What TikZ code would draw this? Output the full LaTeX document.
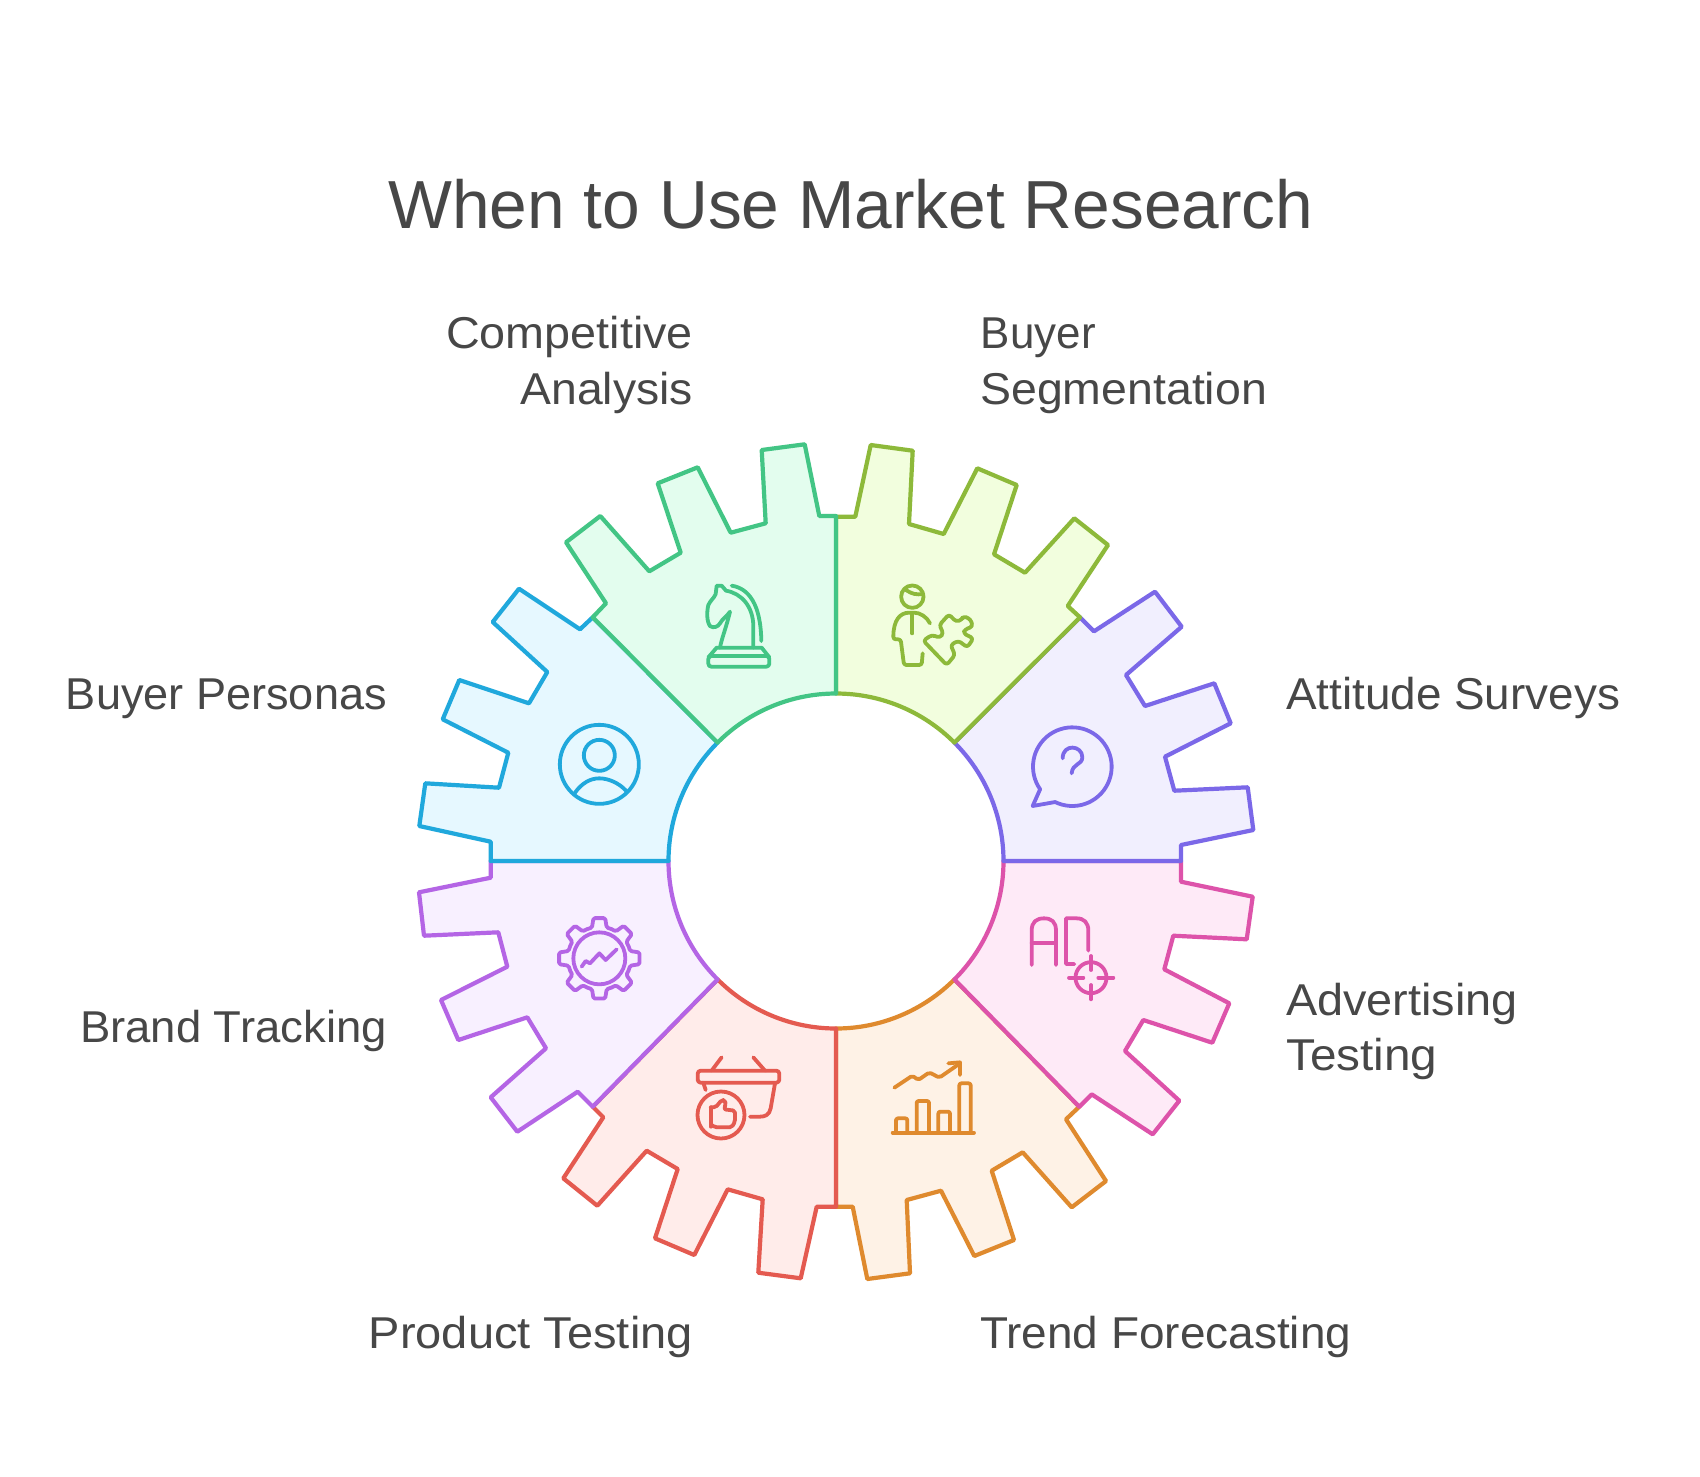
\documentclass[tikz,border=0pt]{standalone}
\usepackage{fontspec}
\setmainfont{Liberation Sans}
\definecolor{txt}{HTML}{474747}
\definecolor{gS}{HTML}{43C585}\definecolor{gF}{HTML}{E3FDEE}
\definecolor{bS}{HTML}{20A8DC}\definecolor{bF}{HTML}{E6F8FF}
\definecolor{yS}{HTML}{8DB93A}\definecolor{yF}{HTML}{F2FEDE}
\definecolor{vS}{HTML}{7B68E8}\definecolor{vF}{HTML}{F1EFFE}
\definecolor{pS}{HTML}{DD53AA}\definecolor{pF}{HTML}{FEEAF7}
\definecolor{oS}{HTML}{DF8A2E}\definecolor{oF}{HTML}{FEF2E6}
\definecolor{rS}{HTML}{E45A50}\definecolor{rF}{HTML}{FFECEA}
\definecolor{mS}{HTML}{B465E5}\definecolor{mF}{HTML}{F8F0FF}
\tikzset{
 seg/.style={line width=4.2pt,line join=round},
 ico/.style={line width=3.8pt,line join=round,line cap=round},
 lbl/.style={text=txt,font=\fontsize{44.6}{52}\selectfont\addfontfeature{FakeStretch=#1},inner sep=0pt},
 ttl/.style={text=txt,font=\fontsize{68}{80}\selectfont\addfontfeature{FakeStretch=0.995},inner sep=0pt},
 zoomed/.style={shift={#1},x=0.33333pt,y=-0.33333pt},
}
\begin{document}
\begin{tikzpicture}[x=1pt,y=-1pt]
\useasboundingbox[fill=white] (0,0) rectangle (1700,1476);
% orange
\draw[seg,draw=oS,fill=oF] (954.4,979.4) .. controls (923,1010.8) and (880.4,1028.5) .. (836,1028.5) -- (836,1206.7) -- (852.7,1206.7) -- (867.3,1279) -- (910,1273.3) -- (906.7,1200) -- (941,1190.7) -- (974.3,1256) -- (1014,1240) -- (991.7,1170.7) -- (1022.7,1152.3) -- (1071.7,1207.3) -- (1106,1181) -- (1066,1119.3) -- (1079.3,1106.7) -- cycle;
% red
\draw[seg,draw=rS,fill=rF] (717.6,979.4) .. controls (749,1010.8) and (791.6,1028.5) .. (836,1028.5) -- (836,1206.7) -- (816.7,1206.7) -- (800.7,1278.3) -- (758.3,1272.7) -- (762.7,1199.3) -- (727.7,1189.3) -- (694.3,1255) -- (655,1238.3) -- (677.7,1169) -- (646.7,1150.7) -- (597.3,1205.7) -- (563.3,1178.3) -- (603.3,1117.3) -- (592.7,1106.7) -- cycle;
% pink
\draw[seg,draw=pS,fill=pF] (1003.5,861) .. controls (1003.5,905.4) and (985.8,948) .. (954.4,979.4) -- (1079.3,1106.7) -- (1091.7,1094.3) -- (1152.7,1134.3) -- (1179.3,1100.7) -- (1125,1051) -- (1143.3,1020) -- (1212.3,1042.7) -- (1229.3,1003.3) -- (1164.3,969.3) -- (1173.3,935.7) -- (1246.7,939.3) -- (1252.7,896.7) -- (1181,881.7) -- (1181,861) -- cycle;
% magenta
\draw[seg,draw=mS,fill=mF] (668.5,861) .. controls (668.5,905.4) and (686.2,948) .. (717.6,979.4) -- (592.7,1106.7) -- (577.7,1091.7) -- (517.3,1131.7) -- (490.7,1097.3) -- (546,1048.3) -- (527.3,1017.3) -- (458.3,1040) -- (441,1000) -- (507.3,966.7) -- (498.3,932.3) -- (424,935.7) -- (419,892.3) -- (490.7,877.7) -- (490.7,861) -- cycle;
% blue
\draw[seg,draw=bS,fill=bF] (717.6,742.6) .. controls (686.2,774) and (668.5,816.6) .. (668.5,861) -- (490.7,861) -- (490.7,841.7) -- (419.3,826) -- (425.3,783.3) -- (499,787.7) -- (508.3,752.7) -- (442.7,719.3) -- (459.3,680) -- (529,703.3) -- (547.3,672) -- (492.7,622) -- (519,588.7) -- (580,629.3) -- (592.7,617.3) -- cycle;
% violet
\draw[seg,draw=vS,fill=vF] (954.4,742.6) .. controls (985.8,774) and (1003.5,816.6) .. (1003.5,861) -- (1181,861) -- (1181,845) -- (1253.3,830) -- (1247.7,787.3) -- (1174.3,790.7) -- (1165,756.7) -- (1230.7,723.3) -- (1214.3,683.3) -- (1145,706) -- (1126,675) -- (1181.7,626.7) -- (1155,591.7) -- (1094,631.3) -- (1080,617.3) -- cycle;
% yellow-green
\draw[seg,draw=yS,fill=yF] (836,693.5) .. controls (880.4,693.5) and (923,711.2) .. (954.4,742.6) -- (1080,617.3) -- (1067.7,606) -- (1108,545) -- (1074.3,518.3) -- (1025,572.7) -- (994,554.3) -- (1016.7,485) -- (977.3,468.3) -- (943.7,534) -- (909,524) -- (912.7,450.7) -- (870.7,445) -- (855.3,516.7) -- (836,516.7) -- cycle;
% green
\draw[seg,draw=gS,fill=gF] (836,693.5) .. controls (791.6,693.5) and (749,711.2) .. (717.6,742.6) -- (592.7,617.3) -- (606,603.3) -- (566,542.3) -- (600.3,516) -- (649.3,571.3) -- (680.7,552.7) -- (657.7,483.3) -- (697.7,467.3) -- (730.7,532.7) -- (765.7,523.3) -- (761.7,450) -- (804.7,444.3) -- (819.3,516) -- (836,516) -- cycle;

% person icon
\begin{scope}[ico,draw=bS,zoomed={(540,570)}]
\draw (178,583) circle[radius=39.5pt];
\draw (178,556) circle[radius=15.5pt];
\draw (105,668) .. controls (125,640) and (150,625) .. (178,625) .. controls (206,625) and (238,640) .. (258,662);
\end{scope}
% knight icon
\begin{scope}[ico,draw=gS,zoomed={(540,570)}]
\draw[rounded corners=3pt] (505,258) rectangle (688,290);
\draw (505,262) -- (530,233) -- (665,233) -- (688,262);
\draw (540,233) .. controls (545,205) and (558,175) .. (570,125) .. controls (560,140) and (548,145) .. (540,160) .. controls (533,172) and (520,175) .. (510,168) .. controls (500,155) and (500,125) .. (505,105) .. controls (512,90) and (522,85) .. (527,72) -- (530,47) -- (545,47) -- (558,62) .. controls (605,70) and (640,110) .. (640,170) -- (640,233);
\draw (575,47) .. controls (625,55) and (662,100) .. (664,213);
\end{scope}
% buyer segmentation icon
\begin{scope}[ico,draw=yS,zoomed={(880,570)}]
\draw (97,80) circle[radius=11.2pt];
\draw (78,60) .. controls (95,72) and (110,75) .. (130,72);
\draw[rounded corners=2.5pt] (150,160) .. controls (140,140) and (120,128) .. (95,128) .. controls (60,128) and (40,150) .. (40,208) -- (62,208) -- (72,285) -- (125,285) -- (128,250);
\draw (97,130) -- (97,190);
\draw[rounded corners=3pt] (130,212) -- (155,195) -- (180,203) -- (190,190) -- (178,165) -- (207,133) -- (228,155) -- (245,150) -- (250,138) -- (272,148) -- (278,170) -- (255,178) -- (250,190) -- (280,205) -- (262,232) -- (235,212) -- (212,225) -- (225,255) -- (200,285) -- cycle;
\end{scope}
% speech bubble icon
\begin{scope}[ico,draw=vS,zoomed={(880,570)}]
\draw plot[domain=244:575,samples=60] ({577+118*cos(\x)},{590-118*sin(\x)}) -- (458,708) -- cycle;
\draw (548,565) .. controls (548,520) and (607,525) .. (607,562) .. controls (607,585) and (577,580) .. (575,610);
\end{scope}
% gear icon
\begin{scope}[ico,draw=mS,zoomed={(540,900)}]
\draw (178,175) circle[radius=26pt];
\begin{scope}[shift={(178,175)}]
\foreach \a in {0,45,...,315}{
\draw[rounded corners=1.5pt] (\a-22.5:95) -- (\a-13.4:95) -- (\a-8.3:122) -- (\a+8.3:122) -- (\a+13.4:95) -- (\a+22.5:95);
}
\end{scope}
\draw (125,200) -- (137,183) -- (150,190) -- (178,160) -- (197,180) -- (230,148);
\end{scope}
% basket icon
\begin{scope}[ico,draw=rS,zoomed={(540,900)}]
\draw[rounded corners=3pt] (473,512) rectangle (718,548);
\draw (545,472) -- (515,512);
\draw (640,472) -- (675,512);
\draw (490,548) -- (497,570);
\draw (705,550) -- (692,625) .. controls (688,645) and (675,650) .. (660,650) -- (630,650);
\draw (543,645) circle[radius=23.5pt];
\draw[rounded corners=1.5pt] (512,622) -- (512,680);
\draw[rounded corners=2pt] (512,622) -- (527,622) -- (545,600) -- (555,600) -- (557,615) -- (552,628) -- (585,632) -- (585,665) -- (575,682) -- (525,682) -- (515,675);
\end{scope}
% chart icon
\begin{scope}[ico,draw=oS,zoomed={(880,900)}]
\draw (38,698) -- (282,698);
\draw[rounded corners=2pt] (48,698) -- (48,655) -- (82,655) -- (82,698);
\draw[rounded corners=2pt] (110,698) -- (110,603) -- (147,603) -- (147,698);
\draw[rounded corners=2pt] (175,698) -- (175,635) -- (210,635) -- (210,698);
\draw[rounded corners=2pt] (238,698) -- (238,550) -- (272,550) -- (272,698);
\draw[rounded corners=2pt] (43,563) -- (97,527) -- (115,540) -- (148,517) -- (178,533) -- (240,490);
\draw (205,490) -- (240,487) -- (240,525);
\end{scope}
% AD icon
\begin{scope}[ico,draw=pS,zoomed={(880,900)}]
\draw (455,195) -- (455,92) .. controls (455,65) and (470,55) .. (492,55) .. controls (514,55) and (528,65) .. (528,92) -- (528,195);
\draw (455,130) -- (528,130);
\draw (583,192) -- (558,192) -- (558,55) -- (590,55) .. controls (612,55) and (625,68) .. (625,92) -- (625,152);
\draw (633,233) circle[radius=15.5pt];
\draw (567,233) -- (610,233);
\draw (655,233) -- (700,233);
\draw (633,168) -- (633,210);
\draw (633,255) -- (633,298);
\end{scope}

% text
\node[ttl,anchor=base] (title) at (851,228.5) {When to Use Market Research};
\node[lbl=1.048,anchor=base east] (compA) at (693,348.3) {Competitive};
\node[lbl=1.038,anchor=base east] (compB) at (693,404) {Analysis};
\node[lbl=0.985,anchor=base west] (segA) at (980.7,348.3) {Buyer};
\node[lbl=1.042,anchor=base west] (segB) at (980,404) {Segmentation};
\node[lbl=1.011,anchor=base east] (pers) at (387,709.3) {Buyer Personas};
\node[lbl=1.028,anchor=base west] (atti) at (1286,709.3) {Attitude Surveys};
\node[lbl=1.02,anchor=base east] (brand) at (387,1042.3) {Brand Tracking};
\node[lbl=1.05,anchor=base west] (advA) at (1286,1015.3) {Advertising};
\node[lbl=1.07,anchor=base west] (advB) at (1286,1070) {Testing};
\node[lbl=1.054,anchor=base east] (prod) at (693,1348.3) {Product Testing};
\node[lbl=1.03,anchor=base west] (trend) at (980,1348.3) {Trend Forecasting};
\end{tikzpicture}
\end{document}
